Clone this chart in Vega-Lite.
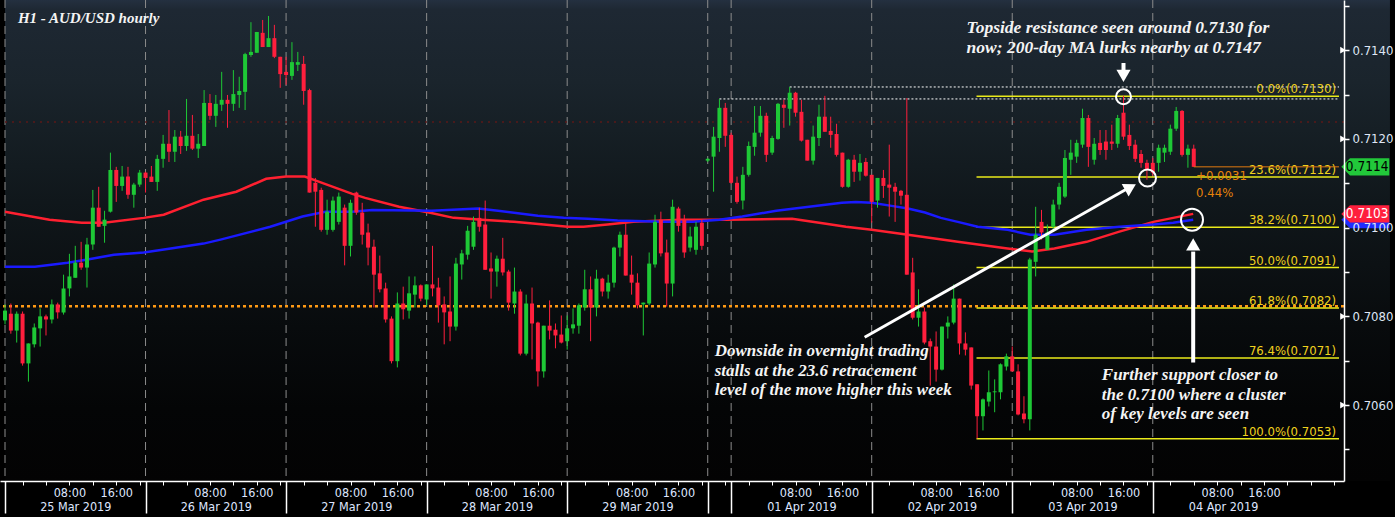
{
  "$schema": "https://vega.github.io/schema/vega-lite/v6.json",
  "width": 1344,
  "height": 481,
  "autosize": {"type": "none"},
  "padding": {"left": 0, "top": 0, "right": 51, "bottom": 36},
  "background": "#000000",
  "config": {
    "view": {"stroke": null},
    "axis": {"grid": false, "labelFont": "DejaVu Sans Condensed, sans-serif", "titleFont": "DejaVu Sans Condensed, sans-serif"}
  },
  "datasets": {
    "candles": [
      {"k":0,"o":0.70791,"h":0.70827,"l":0.70782,"c":0.70813},
      {"k":1,"o":0.70806,"h":0.70829,"l":0.70761,"c":0.70768},
      {"k":2,"o":0.70768,"h":0.70811,"l":0.70741,"c":0.70806},
      {"k":3,"o":0.70806,"h":0.70811,"l":0.70689,"c":0.70694},
      {"k":4,"o":0.70694,"h":0.70739,"l":0.70653,"c":0.70739},
      {"k":5,"o":0.70737,"h":0.70784,"l":0.70730,"c":0.70775},
      {"k":6,"o":0.70773,"h":0.70818,"l":0.70732,"c":0.70800},
      {"k":7,"o":0.70800,"h":0.70804,"l":0.70757,"c":0.70793},
      {"k":8,"o":0.70793,"h":0.70838,"l":0.70784,"c":0.70827},
      {"k":9,"o":0.70827,"h":0.70831,"l":0.70795,"c":0.70809},
      {"k":10,"o":0.70809,"h":0.70894,"l":0.70804,"c":0.70863},
      {"k":11,"o":0.70863,"h":0.70941,"l":0.70845,"c":0.70890},
      {"k":12,"o":0.70887,"h":0.70959,"l":0.70887,"c":0.70921},
      {"k":13,"o":0.70921,"h":0.70968,"l":0.70905,"c":0.70910},
      {"k":14,"o":0.70910,"h":0.70977,"l":0.70865,"c":0.70962},
      {"k":15,"o":0.70962,"h":0.71085,"l":0.70950,"c":0.71045},
      {"k":16,"o":0.71045,"h":0.71092,"l":0.71002,"c":0.71002},
      {"k":17,"o":0.71004,"h":0.71038,"l":0.70966,"c":0.71018},
      {"k":18,"o":0.71036,"h":0.71169,"l":0.71034,"c":0.71130},
      {"k":19,"o":0.71130,"h":0.71137,"l":0.71058,"c":0.71094},
      {"k":20,"o":0.71094,"h":0.71139,"l":0.71083,"c":0.71115},
      {"k":21,"o":0.71115,"h":0.71137,"l":0.71065,"c":0.71074},
      {"k":22,"o":0.71074,"h":0.71101,"l":0.71045,"c":0.71097},
      {"k":23,"o":0.71097,"h":0.71130,"l":0.71092,"c":0.71124},
      {"k":24,"o":0.71124,"h":0.71126,"l":0.71079,"c":0.71112},
      {"k":25,"o":0.71115,"h":0.71139,"l":0.71103,"c":0.71103},
      {"k":26,"o":0.71103,"h":0.71164,"l":0.71083,"c":0.71155},
      {"k":27,"o":0.71155,"h":0.71209,"l":0.71135,"c":0.71189},
      {"k":28,"o":0.71189,"h":0.71265,"l":0.71148,"c":0.71171},
      {"k":29,"o":0.71171,"h":0.71220,"l":0.71148,"c":0.71205},
      {"k":30,"o":0.71205,"h":0.71218,"l":0.71166,"c":0.71184},
      {"k":31,"o":0.71184,"h":0.71290,"l":0.71173,"c":0.71207},
      {"k":32,"o":0.71207,"h":0.71254,"l":0.71175,"c":0.71178},
      {"k":33,"o":0.71178,"h":0.71211,"l":0.71157,"c":0.71189},
      {"k":34,"o":0.71184,"h":0.71310,"l":0.71184,"c":0.71281},
      {"k":35,"o":0.71281,"h":0.71301,"l":0.71243,"c":0.71252},
      {"k":36,"o":0.71252,"h":0.71299,"l":0.71227,"c":0.71279},
      {"k":37,"o":0.71277,"h":0.71351,"l":0.71263,"c":0.71288},
      {"k":38,"o":0.71288,"h":0.71299,"l":0.71225,"c":0.71279},
      {"k":39,"o":0.71279,"h":0.71355,"l":0.71263,"c":0.71301},
      {"k":40,"o":0.71299,"h":0.71340,"l":0.71270,"c":0.71308},
      {"k":41,"o":0.71306,"h":0.71394,"l":0.71265,"c":0.71391},
      {"k":42,"o":0.71389,"h":0.71463,"l":0.71385,"c":0.71396},
      {"k":43,"o":0.71394,"h":0.71441,"l":0.71394,"c":0.71441},
      {"k":44,"o":0.71439,"h":0.71468,"l":0.71407,"c":0.71407},
      {"k":45,"o":0.71407,"h":0.71477,"l":0.71407,"c":0.71427},
      {"k":46,"o":0.71427,"h":0.71457,"l":0.71382,"c":0.71385},
      {"k":47,"o":0.71385,"h":0.71385,"l":0.71315,"c":0.71346},
      {"k":48,"o":0.71351,"h":0.71385,"l":0.71322,"c":0.71344},
      {"k":49,"o":0.71342,"h":0.71418,"l":0.71333,"c":0.71373},
      {"k":50,"o":0.71367,"h":0.71396,"l":0.71353,"c":0.71373},
      {"k":51,"o":0.71369,"h":0.71387,"l":0.71277,"c":0.71308},
      {"k":52,"o":0.71310,"h":0.71313,"l":0.71079,"c":0.71079},
      {"k":53,"o":0.71101,"h":0.71112,"l":0.71002,"c":0.71081},
      {"k":54,"o":0.71085,"h":0.71090,"l":0.70991,"c":0.70995},
      {"k":55,"o":0.70995,"h":0.71063,"l":0.70984,"c":0.71036},
      {"k":56,"o":0.70995,"h":0.71070,"l":0.70991,"c":0.71061},
      {"k":57,"o":0.71013,"h":0.71079,"l":0.71007,"c":0.71070},
      {"k":58,"o":0.71045,"h":0.71052,"l":0.70915,"c":0.70959},
      {"k":59,"o":0.70959,"h":0.71063,"l":0.70935,"c":0.71056},
      {"k":60,"o":0.71079,"h":0.71081,"l":0.71029,"c":0.71034},
      {"k":61,"o":0.71034,"h":0.71056,"l":0.70962,"c":0.70984},
      {"k":62,"o":0.70989,"h":0.71009,"l":0.70915,"c":0.70955},
      {"k":63,"o":0.70957,"h":0.70973,"l":0.70820,"c":0.70894},
      {"k":64,"o":0.70897,"h":0.70937,"l":0.70854,"c":0.70861},
      {"k":65,"o":0.70863,"h":0.70876,"l":0.70786,"c":0.70793},
      {"k":66,"o":0.70795,"h":0.70800,"l":0.70694,"c":0.70699},
      {"k":67,"o":0.70699,"h":0.70854,"l":0.70685,"c":0.70829},
      {"k":68,"o":0.70829,"h":0.70867,"l":0.70793,"c":0.70816},
      {"k":69,"o":0.70813,"h":0.70890,"l":0.70795,"c":0.70852},
      {"k":70,"o":0.70849,"h":0.70890,"l":0.70820,"c":0.70870},
      {"k":71,"o":0.70870,"h":0.70872,"l":0.70834,"c":0.70840},
      {"k":72,"o":0.70838,"h":0.70872,"l":0.70825,"c":0.70872},
      {"k":73,"o":0.70872,"h":0.70959,"l":0.70845,"c":0.70863},
      {"k":74,"o":0.70865,"h":0.70887,"l":0.70786,"c":0.70825},
      {"k":75,"o":0.70827,"h":0.70845,"l":0.70737,"c":0.70809},
      {"k":76,"o":0.70811,"h":0.70890,"l":0.70744,"c":0.70777},
      {"k":77,"o":0.70777,"h":0.70932,"l":0.70768,"c":0.70919},
      {"k":78,"o":0.70917,"h":0.70950,"l":0.70883,"c":0.70942},
      {"k":79,"o":0.70939,"h":0.71004,"l":0.70928,"c":0.70993},
      {"k":80,"o":0.70957,"h":0.71025,"l":0.70950,"c":0.71013},
      {"k":81,"o":0.71022,"h":0.71045,"l":0.70991,"c":0.71002},
      {"k":82,"o":0.71007,"h":0.71061,"l":0.70905,"c":0.70905},
      {"k":83,"o":0.70908,"h":0.70944,"l":0.70840,"c":0.70901},
      {"k":84,"o":0.70901,"h":0.70937,"l":0.70867,"c":0.70930},
      {"k":85,"o":0.70930,"h":0.70977,"l":0.70892,"c":0.70899},
      {"k":86,"o":0.70901,"h":0.70905,"l":0.70813,"c":0.70831},
      {"k":87,"o":0.70829,"h":0.70910,"l":0.70806,"c":0.70856},
      {"k":88,"o":0.70856,"h":0.70861,"l":0.70712,"c":0.70716},
      {"k":89,"o":0.70716,"h":0.70849,"l":0.70712,"c":0.70829},
      {"k":90,"o":0.70829,"h":0.70865,"l":0.70703,"c":0.70784},
      {"k":91,"o":0.70786,"h":0.70788,"l":0.70642,"c":0.70676},
      {"k":92,"o":0.70676,"h":0.70779,"l":0.70662,"c":0.70779},
      {"k":93,"o":0.70779,"h":0.70836,"l":0.70748,"c":0.70768},
      {"k":94,"o":0.70770,"h":0.70784,"l":0.70728,"c":0.70757},
      {"k":95,"o":0.70759,"h":0.70802,"l":0.70739,"c":0.70741},
      {"k":96,"o":0.70744,"h":0.70802,"l":0.70725,"c":0.70773},
      {"k":97,"o":0.70773,"h":0.70818,"l":0.70761,"c":0.70782},
      {"k":98,"o":0.70779,"h":0.70829,"l":0.70761,"c":0.70825},
      {"k":99,"o":0.70820,"h":0.70905,"l":0.70813,"c":0.70861},
      {"k":100,"o":0.70861,"h":0.70890,"l":0.70744,"c":0.70820},
      {"k":101,"o":0.70820,"h":0.70905,"l":0.70800,"c":0.70885},
      {"k":102,"o":0.70885,"h":0.70887,"l":0.70845,"c":0.70856},
      {"k":103,"o":0.70856,"h":0.70894,"l":0.70840,"c":0.70876},
      {"k":104,"o":0.70876,"h":0.70957,"l":0.70865,"c":0.70955},
      {"k":105,"o":0.70955,"h":0.70991,"l":0.70935,"c":0.70984},
      {"k":106,"o":0.70984,"h":0.71011,"l":0.70892,"c":0.70892},
      {"k":107,"o":0.70894,"h":0.70937,"l":0.70849,"c":0.70876},
      {"k":108,"o":0.70876,"h":0.70897,"l":0.70818,"c":0.70825},
      {"k":109,"o":0.70827,"h":0.70831,"l":0.70757,"c":0.70831},
      {"k":110,"o":0.70829,"h":0.70944,"l":0.70825,"c":0.70919},
      {"k":111,"o":0.70917,"h":0.71029,"l":0.70910,"c":0.71013},
      {"k":112,"o":0.71018,"h":0.71036,"l":0.70935,"c":0.70942},
      {"k":113,"o":0.70944,"h":0.70973,"l":0.70822,"c":0.70874},
      {"k":114,"o":0.70874,"h":0.71063,"l":0.70845,"c":0.71047},
      {"k":115,"o":0.71043,"h":0.71047,"l":0.70991,"c":0.71004},
      {"k":116,"o":0.71018,"h":0.71029,"l":0.70932,"c":0.70944},
      {"k":117,"o":0.70955,"h":0.71002,"l":0.70946,"c":0.70980},
      {"k":118,"o":0.70950,"h":0.71013,"l":0.70939,"c":0.71002},
      {"k":119,"o":0.71011,"h":0.71018,"l":0.70950,"c":0.70959},
      {"k":120,"o":0.71151,"h":0.71157,"l":0.71148,"c":0.71155},
      {"k":121,"o":0.71160,"h":0.71227,"l":0.71081,"c":0.71205},
      {"k":122,"o":0.71202,"h":0.71290,"l":0.71171,"c":0.71270},
      {"k":123,"o":0.71270,"h":0.71281,"l":0.71182,"c":0.71207},
      {"k":124,"o":0.71209,"h":0.71214,"l":0.71099,"c":0.71101},
      {"k":125,"o":0.71101,"h":0.71115,"l":0.71054,"c":0.71058},
      {"k":126,"o":0.71061,"h":0.71137,"l":0.71041,"c":0.71119},
      {"k":127,"o":0.71119,"h":0.71194,"l":0.71115,"c":0.71184},
      {"k":128,"o":0.71182,"h":0.71274,"l":0.71162,"c":0.71214},
      {"k":129,"o":0.71214,"h":0.71274,"l":0.71205,"c":0.71252},
      {"k":130,"o":0.71252,"h":0.71259,"l":0.71148,"c":0.71164},
      {"k":131,"o":0.71169,"h":0.71207,"l":0.71164,"c":0.71202},
      {"k":132,"o":0.71200,"h":0.71281,"l":0.71198,"c":0.71279},
      {"k":133,"o":0.71277,"h":0.71288,"l":0.71225,"c":0.71270},
      {"k":134,"o":0.71268,"h":0.71317,"l":0.71230,"c":0.71304},
      {"k":135,"o":0.71304,"h":0.71306,"l":0.71250,"c":0.71259},
      {"k":136,"o":0.71261,"h":0.71288,"l":0.71194,"c":0.71196},
      {"k":137,"o":0.71198,"h":0.71198,"l":0.71151,"c":0.71151},
      {"k":138,"o":0.71151,"h":0.71230,"l":0.71142,"c":0.71205},
      {"k":139,"o":0.71202,"h":0.71277,"l":0.71184,"c":0.71250},
      {"k":140,"o":0.71250,"h":0.71297,"l":0.71216,"c":0.71216},
      {"k":141,"o":0.71218,"h":0.71250,"l":0.71180,"c":0.71209},
      {"k":142,"o":0.71211,"h":0.71234,"l":0.71160,"c":0.71164},
      {"k":143,"o":0.71169,"h":0.71169,"l":0.71090,"c":0.71092},
      {"k":144,"o":0.71092,"h":0.71155,"l":0.71090,"c":0.71153},
      {"k":145,"o":0.71153,"h":0.71164,"l":0.71103,"c":0.71126},
      {"k":146,"o":0.71126,"h":0.71166,"l":0.71106,"c":0.71146},
      {"k":147,"o":0.71148,"h":0.71157,"l":0.71115,"c":0.71117},
      {"k":148,"o":0.71119,"h":0.71119,"l":0.71011,"c":0.71058},
      {"k":149,"o":0.71061,"h":0.71112,"l":0.71045,"c":0.71112},
      {"k":150,"o":0.71112,"h":0.71130,"l":0.71067,"c":0.71094},
      {"k":151,"o":0.71097,"h":0.71187,"l":0.71025,"c":0.71090},
      {"k":152,"o":0.71092,"h":0.71101,"l":0.71013,"c":0.71081},
      {"k":153,"o":0.71083,"h":0.71085,"l":0.71052,"c":0.71072},
      {"k":154,"o":0.71074,"h":0.71292,"l":0.70894,"c":0.70894},
      {"k":155,"o":0.70899,"h":0.70932,"l":0.70793,"c":0.70797},
      {"k":156,"o":0.70797,"h":0.70861,"l":0.70777,"c":0.70811},
      {"k":157,"o":0.70811,"h":0.70820,"l":0.70737,"c":0.70741},
      {"k":158,"o":0.70744,"h":0.70750,"l":0.70644,"c":0.70732},
      {"k":159,"o":0.70732,"h":0.70766,"l":0.70653,"c":0.70680},
      {"k":160,"o":0.70680,"h":0.70777,"l":0.70678,"c":0.70777},
      {"k":161,"o":0.70777,"h":0.70800,"l":0.70750,"c":0.70786},
      {"k":162,"o":0.70786,"h":0.70872,"l":0.70782,"c":0.70840},
      {"k":163,"o":0.70840,"h":0.70840,"l":0.70714,"c":0.70739},
      {"k":164,"o":0.70739,"h":0.70764,"l":0.70712,"c":0.70725},
      {"k":165,"o":0.70730,"h":0.70730,"l":0.70635,"c":0.70644},
      {"k":166,"o":0.70647,"h":0.70647,"l":0.70525,"c":0.70575},
      {"k":167,"o":0.70575,"h":0.70615,"l":0.70543,"c":0.70613},
      {"k":168,"o":0.70608,"h":0.70678,"l":0.70597,"c":0.70629},
      {"k":169,"o":0.70629,"h":0.70658,"l":0.70584,"c":0.70631},
      {"k":170,"o":0.70629,"h":0.70694,"l":0.70613,"c":0.70692},
      {"k":171,"o":0.70687,"h":0.70716,"l":0.70678,"c":0.70710},
      {"k":172,"o":0.70710,"h":0.70732,"l":0.70676,"c":0.70676},
      {"k":173,"o":0.70676,"h":0.70692,"l":0.70577,"c":0.70579},
      {"k":174,"o":0.70581,"h":0.70620,"l":0.70559,"c":0.70568},
      {"k":175,"o":0.70568,"h":0.70932,"l":0.70543,"c":0.70928},
      {"k":176,"o":0.70923,"h":0.71047,"l":0.70890,"c":0.70984},
      {"k":177,"o":0.71013,"h":0.71040,"l":0.70973,"c":0.70989},
      {"k":178,"o":0.70950,"h":0.71007,"l":0.70950,"c":0.70989},
      {"k":179,"o":0.71002,"h":0.71063,"l":0.70991,"c":0.71052},
      {"k":180,"o":0.71052,"h":0.71101,"l":0.71041,"c":0.71092},
      {"k":181,"o":0.71070,"h":0.71175,"l":0.71067,"c":0.71157},
      {"k":182,"o":0.71153,"h":0.71198,"l":0.71119,"c":0.71169},
      {"k":183,"o":0.71160,"h":0.71198,"l":0.71146,"c":0.71191},
      {"k":184,"o":0.71187,"h":0.71268,"l":0.71180,"c":0.71247},
      {"k":185,"o":0.71247,"h":0.71254,"l":0.71137,"c":0.71182},
      {"k":186,"o":0.71153,"h":0.71202,"l":0.71142,"c":0.71189},
      {"k":187,"o":0.71191,"h":0.71220,"l":0.71164,"c":0.71175},
      {"k":188,"o":0.71194,"h":0.71220,"l":0.71153,"c":0.71175},
      {"k":189,"o":0.71194,"h":0.71232,"l":0.71175,"c":0.71189},
      {"k":190,"o":0.71189,"h":0.71254,"l":0.71180,"c":0.71247},
      {"k":191,"o":0.71259,"h":0.71297,"l":0.71198,"c":0.71205},
      {"k":192,"o":0.71209,"h":0.71232,"l":0.71175,"c":0.71184},
      {"k":193,"o":0.71187,"h":0.71198,"l":0.71148,"c":0.71155},
      {"k":194,"o":0.71166,"h":0.71175,"l":0.71135,"c":0.71146},
      {"k":195,"o":0.71146,"h":0.71153,"l":0.71108,"c":0.71130},
      {"k":196,"o":0.71146,"h":0.71157,"l":0.71117,"c":0.71124},
      {"k":197,"o":0.71146,"h":0.71187,"l":0.71126,"c":0.71180},
      {"k":198,"o":0.71169,"h":0.71187,"l":0.71148,"c":0.71180},
      {"k":199,"o":0.71171,"h":0.71232,"l":0.71164,"c":0.71223},
      {"k":200,"o":0.71223,"h":0.71272,"l":0.71218,"c":0.71263},
      {"k":201,"o":0.71263,"h":0.71265,"l":0.71160,"c":0.71164},
      {"k":202,"o":0.71164,"h":0.71187,"l":0.71135,"c":0.71178},
      {"k":203,"o":0.71178,"h":0.71187,"l":0.71137,"c":0.71137}
    ],
    "ma": [
      {"ma":"r","k":0,"v":0.71036},{"ma":"r","k":7.6,"v":0.71018},{"ma":"r","k":13.1,"v":0.71011},{"ma":"r","k":16.9,"v":0.71011},
      {"ma":"r","k":23.7,"v":0.71022},{"ma":"r","k":27.1,"v":0.71029},{"ma":"r","k":33.9,"v":0.71063},{"ma":"r","k":39.5,"v":0.71081},
      {"ma":"r","k":44.6,"v":0.71110},{"ma":"r","k":48,"v":0.71115},{"ma":"r","k":51.2,"v":0.71115},{"ma":"r","k":53.1,"v":0.71106},
      {"ma":"r","k":59.3,"v":0.71076},{"ma":"r","k":61.5,"v":0.71067},{"ma":"r","k":67.3,"v":0.71047},{"ma":"r","k":72.4,"v":0.71034},
      {"ma":"r","k":76.6,"v":0.71022},{"ma":"r","k":81.4,"v":0.71018},{"ma":"r","k":86.9,"v":0.71013},{"ma":"r","k":92,"v":0.71007},
      {"ma":"r","k":96.1,"v":0.71002},{"ma":"r","k":98.8,"v":0.71002},{"ma":"r","k":102.9,"v":0.71007},{"ma":"r","k":107.3,"v":0.71013},
      {"ma":"r","k":115.3,"v":0.71018},{"ma":"r","k":123.2,"v":0.71018},{"ma":"r","k":134.4,"v":0.71020},{"ma":"r","k":140.2,"v":0.71009},
      {"ma":"r","k":143.6,"v":0.71002},{"ma":"r","k":148,"v":0.70995},{"ma":"r","k":154.2,"v":0.70984},{"ma":"r","k":162.7,"v":0.70968},
      {"ma":"r","k":171.2,"v":0.70953},{"ma":"r","k":175.4,"v":0.70946},{"ma":"r","k":179.2,"v":0.70953},{"ma":"r","k":184.7,"v":0.70968},
      {"ma":"r","k":190.3,"v":0.70991},{"ma":"r","k":196.1,"v":0.71013},{"ma":"r","k":199.5,"v":0.71022},{"ma":"r","k":202.9,"v":0.71031},
      {"ma":"b","k":0,"v":0.70912},{"ma":"b","k":5.1,"v":0.70912},{"ma":"b","k":10.7,"v":0.70921},{"ma":"b","k":14.1,"v":0.70928},
      {"ma":"b","k":18.6,"v":0.70939},{"ma":"b","k":23.7,"v":0.70944},{"ma":"b","k":28.3,"v":0.70953},{"ma":"b","k":33.9,"v":0.70964},
      {"ma":"b","k":36.8,"v":0.70973},{"ma":"b","k":45.3,"v":0.71002},{"ma":"b","k":50.8,"v":0.71025},{"ma":"b","k":54.7,"v":0.71036},
      {"ma":"b","k":59.3,"v":0.71036},{"ma":"b","k":62.7,"v":0.71040},{"ma":"b","k":72.9,"v":0.71038},{"ma":"b","k":80.8,"v":0.71043},
      {"ma":"b","k":84.2,"v":0.71038},{"ma":"b","k":91,"v":0.71027},{"ma":"b","k":95.4,"v":0.71022},{"ma":"b","k":99.5,"v":0.71020},
      {"ma":"b","k":104.6,"v":0.71016},{"ma":"b","k":112.4,"v":0.71013},{"ma":"b","k":117.5,"v":0.71013},{"ma":"b","k":122,"v":0.71018},
      {"ma":"b","k":125.9,"v":0.71025},{"ma":"b","k":131.7,"v":0.71038},{"ma":"b","k":137.3,"v":0.71047},{"ma":"b","k":142.9,"v":0.71056},
      {"ma":"b","k":145.3,"v":0.71058},{"ma":"b","k":148,"v":0.71056},{"ma":"b","k":151.4,"v":0.71049},{"ma":"b","k":154.2,"v":0.71043},
      {"ma":"b","k":157.1,"v":0.71034},{"ma":"b","k":159.8,"v":0.71022},{"ma":"b","k":162.7,"v":0.71013},{"ma":"b","k":166.1,"v":0.71002},
      {"ma":"b","k":171.2,"v":0.70995},{"ma":"b","k":175.1,"v":0.70984},{"ma":"b","k":179.2,"v":0.70984},{"ma":"b","k":184.7,"v":0.70995},
      {"ma":"b","k":190.3,"v":0.71002},{"ma":"b","k":196.1,"v":0.71007},{"ma":"b","k":199.5,"v":0.71011},{"ma":"b","k":202.9,"v":0.71018}
    ],
    "fib": [
      {"v":0.71296,"lab":"0.0%(0.7130)"},
      {"v":0.71114,"lab":"23.6%(0.7112)"},
      {"v":0.71001,"lab":"38.2%(0.7100)"},
      {"v":0.70910,"lab":"50.0%(0.7091)"},
      {"v":0.70819,"lab":"61.8%(0.7082)"},
      {"v":0.70706,"lab":"76.4%(0.7071)"},
      {"v":0.70524,"lab":"100.0%(0.7053)"}
    ]
  },
  "resolve": {"axis": {"x": "independent", "y": "independent"}},
  "layer": [
    {
      "data": {"values": [{"x1": 0, "x2": 236.5, "y1": 0.70429, "y2": 0.71513}]},
      "mark": {"type": "rect", "fill": {"gradient": "linear", "x1": 0, "y1": 0, "x2": 0, "y2": 1, "stops": [
        {"offset": 0, "color": "#243040"}, {"offset": 0.02, "color": "#1e2833"}, {"offset": 0.17, "color": "#1a242c"},
        {"offset": 0.27, "color": "#161f25"}, {"offset": 0.42, "color": "#10171b"}, {"offset": 0.55, "color": "#0c1114"},
        {"offset": 0.68, "color": "#080b0d"}, {"offset": 0.85, "color": "#040506"}, {"offset": 1, "color": "#030303"}]}},
      "encoding": {
        "x": {"field": "x1", "type": "quantitative", "scale": {"domain": [0, 227.8], "nice": false, "zero": false},
          "axis": {"orient": "bottom", "values": [0, 24, 48, 72, 96, 120, 124, 148, 172, 196], "tickSize": 32, "tickColor": "#ffffff", "tickWidth": 1.5,
            "labels": false, "domain": true, "domainColor": "#ffffff", "domainWidth": 1.5, "title": null, "zindex": 1}},
        "x2": {"field": "x2"},
        "y": {"field": "y1", "type": "quantitative", "scale": {"domain": [0.70429, 0.71513], "nice": false, "zero": false},
          "axis": {"orient": "right", "values": [0.705, 0.706, 0.707, 0.708, 0.709, 0.71, 0.711, 0.712, 0.713, 0.714, 0.715],
            "labelExpr": "round(datum.value * 10000) % 20 == 0 ? format(datum.value, '.4f') : ''",
            "tickSize": 5, "tickColor": "#ffffff", "tickWidth": 1.5, "labelPadding": 3, "labelColor": "#dfe6f5", "labelFontSize": 13,
            "labelBaseline": "middle", "labelOverlap": false, "labelFlush": false, "domainColor": "#ffffff", "domainWidth": 1.5, "title": null, "zindex": 1}},
        "y2": {"field": "y2"}
      }
    },
    {
      "data": {"values": [{"k": 0}, {"k": 24}, {"k": 48}, {"k": 72}, {"k": 96}, {"k": 120}, {"k": 124}, {"k": 148}, {"k": 172}, {"k": 196}]},
      "mark": {"type": "rule", "color": "#8c8c8c", "strokeWidth": 1, "strokeDash": [8, 5]},
      "encoding": {"x": {"field": "k", "type": "quantitative", "axis": null}}
    },
    {
      "data": {"values": [{"v": 0.71238}]},
      "mark": {"type": "rule", "color": "#5a1818", "strokeWidth": 1.5, "strokeDash": [2, 5]},
      "encoding": {"y": {"field": "v", "type": "quantitative", "axis": null}}
    },
    {
      "data": {"values": [{"v": 0.70823}]},
      "mark": {"type": "rule", "color": "#ff9a14", "strokeWidth": 2.5, "strokeDash": [3, 3]},
      "encoding": {"y": {"field": "v", "type": "quantitative", "axis": null}}
    },
    {
      "data": {"values": [{"k1": 134, "v": 0.71317}, {"k1": 122, "v": 0.71290}]},
      "mark": {"type": "rule", "color": "#ffffff", "strokeWidth": 1, "strokeDash": [2, 2]},
      "encoding": {
        "x": {"field": "k1", "type": "quantitative", "axis": null},
        "x2": {"datum": 227.8},
        "y": {"field": "v", "type": "quantitative", "axis": null}
      }
    },
    {
      "data": {"name": "fib"},
      "mark": {"type": "rule", "color": "#eaea1a", "strokeWidth": 1.5},
      "encoding": {
        "x": {"datum": 165.9, "type": "quantitative", "axis": null},
        "x2": {"datum": 227.8},
        "y": {"field": "v", "type": "quantitative", "axis": null}
      }
    },
    {
      "data": {"name": "fib"},
      "mark": {"type": "text", "align": "right", "baseline": "middle", "dy": -7, "color": "#f0d21e", "font": "DejaVu Sans Condensed, sans-serif", "fontSize": 13},
      "encoding": {
        "x": {"datum": 227.3, "type": "quantitative", "axis": null},
        "y": {"field": "v", "type": "quantitative", "axis": null},
        "text": {"field": "lab"}
      }
    },
    {
      "data": {"name": "ma"},
      "mark": {"type": "line", "strokeWidth": 2.5},
      "encoding": {
        "x": {"field": "k", "type": "quantitative", "axis": null},
        "y": {"field": "v", "type": "quantitative", "axis": null},
        "color": {"field": "ma", "type": "nominal", "scale": {"domain": ["r", "b"], "range": ["#ff2030", "#1a1aff"]}, "legend": null}
      }
    },
    {
      "data": {"name": "candles"},
      "mark": {"type": "rule", "strokeWidth": 1},
      "encoding": {
        "x": {"field": "k", "type": "quantitative",
          "axis": {"orient": "bottom", "values": [3,7,11,15,19,23,27,31,35,39,43,47,51,55,59,63,67,71,75,79,83,87,91,95,99,103,107,111,115,119,123,127,131,135,139,143,147,151,155,159,163,167,171,175,179,183,187,191,195,199,203,207,211,215,219,223,227],
            "labelExpr": "(datum.value >= 124 ? (datum.value - 124) % 24 : datum.value % 24) == 11 ? '08:00' : ((datum.value >= 124 ? (datum.value - 124) % 24 : datum.value % 24) == 19 ? '16:00' : '')",
            "tickSize": 4, "tickColor": "#ffffff", "tickWidth": 1, "domain": false, "labelPadding": 1, "labelColor": "#dfe6ff", "labelFontSize": 12.5,
            "labelOverlap": false, "labelFlush": false, "title": null, "zindex": 1}},
        "y": {"field": "l", "type": "quantitative", "axis": null},
        "y2": {"field": "h"},
        "color": {"condition": {"test": "datum.c < datum.o", "value": "#ff1f3d"}, "value": "#1ec836"}
      }
    },
    {
      "data": {"name": "candles"},
      "mark": {"type": "bar", "size": 4},
      "encoding": {
        "x": {"field": "k", "type": "quantitative",
          "axis": {"orient": "bottom", "values": [12, 36, 60, 84, 108, 136, 160, 184, 208],
            "labelExpr": "['25 Mar 2019','26 Mar 2019','27 Mar 2019','28 Mar 2019','29 Mar 2019','01 Apr 2019','02 Apr 2019','03 Apr 2019','04 Apr 2019'][indexof([12,36,60,84,108,136,160,184,208], datum.value)]",
            "ticks": false, "domain": false, "labelPadding": 19, "labelColor": "#dfe6ff", "labelFontSize": 12.5,
            "labelOverlap": false, "labelFlush": false, "title": null, "zindex": 1}},
        "y": {"field": "o", "type": "quantitative", "axis": null},
        "y2": {"field": "c"},
        "color": {"condition": {"test": "datum.c < datum.o", "value": "#ff1f3d"}, "value": "#1ec836"}
      }
    },
    {
      "data": {"values": [{"v": 0.71137}]},
      "mark": {"type": "rule", "color": "#e07a10", "strokeWidth": 1},
      "encoding": {
        "x": {"datum": 203, "type": "quantitative", "axis": null},
        "x2": {"datum": 227.8},
        "y": {"field": "v", "type": "quantitative", "axis": null}
      }
    },
    {
      "data": {"values": [
        {"k": 203.4, "v": 0.71117, "t": "+0.0031"},
        {"k": 203.4, "v": 0.71079, "t": "0.44%"}
      ]},
      "mark": {"type": "text", "align": "left", "baseline": "middle", "color": "#e8820a", "font": "DejaVu Sans Condensed, sans-serif", "fontSize": 13},
      "encoding": {
        "x": {"field": "k", "type": "quantitative", "axis": null},
        "y": {"field": "v", "type": "quantitative", "axis": null},
        "text": {"field": "t"}
      }
    },
    {
      "data": {"values": [
        {"k1": 191, "v1": 0.71371, "k2": 191, "v2": 0.71355, "w": 4},
        {"k1": 202.9, "v1": 0.70696, "k2": 202.9, "v2": 0.70946, "w": 4},
        {"k1": 146.8, "v1": 0.70753, "k2": 191.4, "v2": 0.71086, "w": 3}
      ]},
      "mark": {"type": "rule", "color": "#ffffff"},
      "encoding": {
        "x": {"field": "k1", "type": "quantitative", "axis": null},
        "x2": {"field": "k2"},
        "y": {"field": "v1", "type": "quantitative", "axis": null},
        "y2": {"field": "v2"},
        "strokeWidth": {"field": "w", "type": "quantitative", "scale": null}
      }
    },
    {
      "data": {"values": [
        {"k": 191, "v": 0.71342, "shp": "triangle-down", "ang": 0},
        {"k": 202.9, "v": 0.70962, "shp": "triangle-up", "ang": 0},
        {"k": 192.2, "v": 0.71091, "shp": "triangle-right", "ang": -29}
      ]},
      "mark": {"type": "point", "filled": true, "color": "#ffffff", "opacity": 1, "size": 200},
      "encoding": {
        "x": {"field": "k", "type": "quantitative", "axis": null},
        "y": {"field": "v", "type": "quantitative", "axis": null},
        "shape": {"field": "shp", "type": "nominal", "scale": null},
        "angle": {"field": "ang", "type": "quantitative", "scale": null}
      }
    },
    {
      "data": {"values": [
        {"k": 191, "v": 0.71295, "s": 225},
        {"k": 195.1, "v": 0.71112, "s": 289},
        {"k": 202.7, "v": 0.71018, "s": 484}
      ]},
      "mark": {"type": "point", "shape": "circle", "filled": false, "color": "#ffffff", "strokeWidth": 2, "opacity": 1},
      "encoding": {
        "x": {"field": "k", "type": "quantitative", "axis": null},
        "y": {"field": "v", "type": "quantitative", "axis": null},
        "size": {"field": "s", "type": "quantitative", "scale": null}
      }
    },
    {
      "data": {"values": [
        {"k": 2.2, "v": 0.71472, "t": "H1 - AUD/USD hourly", "fs": 15},
        {"k": 164.2, "v": 0.71450, "t": "Topside resistance seen around 0.7130 for", "fs": 17.5},
        {"k": 164.2, "v": 0.71405, "t": "now; 200-day MA lurks nearby at 0.7147", "fs": 17.5},
        {"k": 121.2, "v": 0.70723, "t": "Downside in overnight trading", "fs": 17},
        {"k": 121.2, "v": 0.70678, "t": "stalls at the 23.6 retracement", "fs": 17},
        {"k": 121.2, "v": 0.70635, "t": "level of the move higher this week", "fs": 17},
        {"k": 187.3, "v": 0.70667, "t": "Further support closer to", "fs": 17},
        {"k": 187.3, "v": 0.70622, "t": "the 0.7100 where a cluster", "fs": 17},
        {"k": 187.3, "v": 0.70579, "t": "of key levels are seen", "fs": 17}
      ]},
      "mark": {"type": "text", "align": "left", "baseline": "middle", "color": "#f4f4f4", "font": "Liberation Serif, DejaVu Serif, serif", "fontStyle": "italic", "fontWeight": "bold"},
      "encoding": {
        "x": {"field": "k", "type": "quantitative", "axis": null},
        "y": {"field": "v", "type": "quantitative", "axis": null},
        "text": {"field": "t"},
        "size": {"field": "fs", "type": "quantitative", "scale": null}
      }
    },
    {
      "data": {"values": [{"v": 0.706}, {"v": 0.708}, {"v": 0.712}, {"v": 0.714}]},
      "mark": {"type": "point", "shape": "triangle-right", "filled": true, "color": "#ffffff", "opacity": 1, "size": 45},
      "encoding": {
        "x": {"datum": 228.5, "type": "quantitative", "axis": null},
        "y": {"field": "v", "type": "quantitative", "axis": null}
      }
    },
    {
      "data": {"values": [
        {"v": 0.71018, "col": "#1f2cff"},
        {"v": 0.71031, "col": "#ff1f3d"},
        {"v": 0.71137, "col": "#22c83a"}
      ]},
      "mark": {"type": "point", "shape": "M0,0L0.18,-0.18L1,-0.18L1,0.18L0.18,0.18Z", "filled": true, "opacity": 1, "size": 9216, "strokeWidth": 0},
      "encoding": {
        "x": {"datum": 228.2, "type": "quantitative", "axis": null},
        "y": {"field": "v", "type": "quantitative", "axis": null},
        "fill": {"field": "col", "type": "nominal", "scale": null}
      }
    },
    {
      "data": {"values": [
        {"v": 0.71031, "t": "0.7103", "tc": "#ffffff"},
        {"v": 0.71137, "t": "0.7114", "tc": "#000000"}
      ]},
      "mark": {"type": "text", "align": "center", "baseline": "middle", "font": "DejaVu Sans Condensed, sans-serif", "fontSize": 13.5},
      "encoding": {
        "x": {"datum": 232.6, "type": "quantitative", "axis": null},
        "y": {"field": "v", "type": "quantitative", "axis": null},
        "text": {"field": "t"},
        "color": {"field": "tc", "type": "nominal", "scale": null}
      }
    }
  ]
}
